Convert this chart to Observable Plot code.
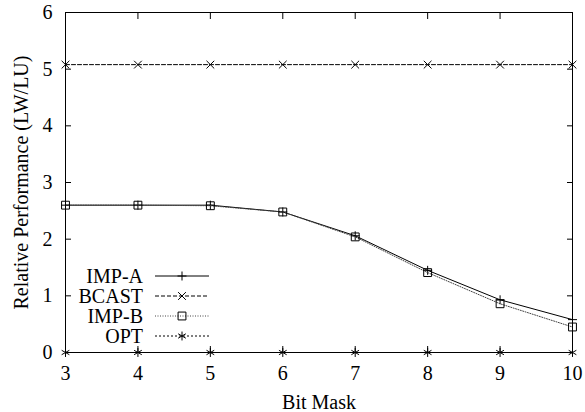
<!DOCTYPE html>
<html>
<head>
<meta charset="utf-8">
<script src="https://cdn.jsdelivr.net/npm/d3@7"></script>
<script src="https://cdn.jsdelivr.net/npm/@observablehq/plot@0.6"></script>
<style>
  html, body { margin: 0; padding: 0; background: #fff; }
  #chart svg { display: block; }
  #chart svg, #chart svg text, #chart svg g { font-family: "Liberation Serif", "Times New Roman", serif !important; }
</style>
</head>
<body>
<div id="chart"></div>
<script>
// ---- data ----
const bitMask = [3, 4, 5, 6, 7, 8, 9, 10];
const impA  = [2.60, 2.60, 2.60, 2.48, 2.06, 1.45, 0.93, 0.58];
const bcast = [5.08, 5.08, 5.08, 5.08, 5.08, 5.08, 5.08, 5.08];
const impB  = [2.60, 2.60, 2.59, 2.48, 2.04, 1.41, 0.86, 0.45];
const opt   = [0, 0, 0, 0, 0, 0, 0, 0];
const seriesNames = ["IMP-A", "BCAST", "IMP-B", "OPT"];
const xTicks = [3, 4, 5, 6, 7, 8, 9, 10];
const yTicks = [0, 1, 2, 3, 4, 5, 6];
const xLabel = "Bit Mask";
const yLabel = "Relative Performance (LW/LU)";

// ---- styles ----
const FONT = "Liberation Serif";
const FS = 20;
const styles = [
  {stroke: "#000", dash: null, symbol: "plus", r: 3.0},
  {stroke: "#000", dash: "4,2", symbol: "times", r: 3.6},
  {stroke: "#444", dash: "1,1.5", symbol: "square2", r: 5.0},
  {stroke: "#000", dash: "2,2", symbol: "asterisk", r: 4.2}
];
const seriesValues = [impA, bcast, impB, opt];
const d3Symbols = {plus: d3.symbolPlus, times: d3.symbolTimes, square2: d3.symbolSquare2, asterisk: d3.symbolAsterisk};

const rows = seriesValues.map(vals => bitMask.map((b, i) => ({x: b, y: vals[i]})));

const seriesMarks = [];
rows.forEach((data, s) => {
  const st = styles[s];
  seriesMarks.push(Plot.line(data, {x: "x", y: "y", stroke: st.stroke, strokeWidth: 1, strokeDasharray: st.dash}));
  seriesMarks.push(Plot.dot(data, {x: "x", y: "y", symbol: () => st.symbol, r: st.r, stroke: "#000", strokeWidth: 1, fill: "none"}));
});

// legend (drawn inside the frame, bottom-left)
function legendMark(index, scales, values, dims) {
  const g = d3.create("svg:g").attr("font-family", FONT).attr("font-size", FS);
  const textRight = 143, lineX1 = 155, lineX2 = 209, symX = 182;
  const y0 = 276, step = 20;
  seriesNames.forEach((name, i) => {
    const st = styles[i];
    const cy = y0 + i * step;
    g.append("text").attr("x", textRight).attr("y", cy).attr("dy", "0.35em")
      .attr("text-anchor", "end").attr("fill", "#000").text(name);
    g.append("line").attr("x1", lineX1).attr("x2", lineX2).attr("y1", cy).attr("y2", cy)
      .attr("stroke", st.stroke).attr("stroke-width", 1)
      .attr("stroke-dasharray", st.dash);
    g.append("path").attr("transform", `translate(${symX},${cy})`)
      .attr("d", d3.symbol().type(d3Symbols[st.symbol]).size(st.r * st.r * Math.PI)())
      .attr("fill", "none").attr("stroke", "#000").attr("stroke-width", 1);
  });
  return g.node();
}

const plot = Plot.plot({
  width: 585,
  height: 412,
  marginLeft: 65,
  marginRight: 13,
  marginTop: 12,
  marginBottom: 60,
  style: {fontFamily: FONT, fontSize: FS + "px", color: "#000", background: "#fff"},
  x: {domain: [3, 10]},
  y: {domain: [0, 6]},
  marks: [
    Plot.axisX(xTicks, {anchor: "bottom", tickSize: -6, tickPadding: 19, label: null, fontSize: FS, fontFamily: FONT, tickFormat: d3.format("d")}),
    Plot.axisX(xTicks, {anchor: "top", tickSize: -6, tickFormat: () => "", label: null}),
    Plot.axisY(yTicks, {anchor: "left", tickSize: -6, tickPadding: 19, label: null, fontSize: FS, fontFamily: FONT, tickFormat: d3.format("d")}),
    Plot.axisY(yTicks, {anchor: "right", tickSize: -6, tickFormat: () => "", label: null}),
    ...seriesMarks,
    Plot.frame({stroke: "#000", strokeWidth: 1}),
    Plot.text([xLabel], {frameAnchor: "bottom", textAnchor: "middle", lineAnchor: "middle", dy: 50, fontSize: FS, fontFamily: FONT}),
    Plot.text([yLabel], {frameAnchor: "left", textAnchor: "middle", lineAnchor: "middle", rotate: -90, dx: -44, fontSize: FS, fontFamily: FONT}),
    legendMark
  ]
});
document.getElementById("chart").appendChild(plot);
</script>
</body>
</html>
